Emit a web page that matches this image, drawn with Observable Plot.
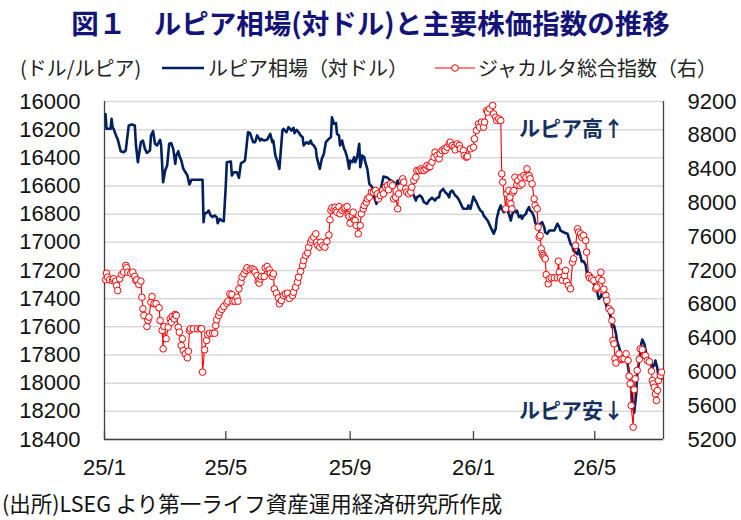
<!DOCTYPE html>
<html><head><meta charset="utf-8">
<script src="https://cdn.jsdelivr.net/npm/d3@7"></script>
<script src="https://cdn.jsdelivr.net/npm/@observablehq/plot@0.6"></script>
<style>
html,body{margin:0;padding:0;background:#fff;}
#wrap{position:relative;width:741px;height:520px;overflow:hidden;background:#fff;}
#title{position:absolute;left:0;top:4px;width:741px;text-align:center;font-family:"Noto Sans CJK JP",sans-serif;font-weight:bold;font-size:27.5px;color:#141478;line-height:36px;white-space:nowrap;}
.leg{position:absolute;top:56px;font-family:"Noto Sans CJK JP",sans-serif;font-size:20px;color:#222;line-height:24px;white-space:nowrap;}
.legsw{position:absolute;top:60px;}
#chart{position:absolute;left:0;top:90px;}
#caption{position:absolute;left:2px;top:490px;font-family:"Noto Sans CJK JP",sans-serif;font-size:21.5px;color:#111;line-height:26px;white-space:nowrap;}
</style>
</head><body>
<div id="wrap">
  <div id="title">図１　ルピア相場(対ドル)と主要株価指数の推移</div>
  <span class="leg" style="left:20px">(ドル/ルピア)</span>
  <svg class="legsw" style="left:160px" width="46" height="16"><line x1="2" y1="8" x2="44" y2="8" stroke="#002060" stroke-width="2.5"/></svg>
  <span class="leg" style="left:208px">ルピア相場（対ドル）</span>
  <svg class="legsw" style="left:434px" width="42" height="16"><line x1="1" y1="8" x2="41" y2="8" stroke="#ff0000" stroke-width="1.2"/><circle cx="21" cy="8" r="3.3" fill="#fff" stroke="#ff0000" stroke-width="1"/></svg>
  <span class="leg" style="left:478px">ジャカルタ総合指数（右）</span>
  <div id="chart"></div>
  <div id="caption">(出所)LSEG より第一ライフ資産運用経済研究所作成</div>
</div>
<script>
// ---- data ----
const idrDates = ["2025-01-02","2025-01-03","2025-01-07","2025-01-08","2025-01-09","2025-01-10","2025-01-13","2025-01-14","2025-01-17","2025-01-20","2025-01-22","2025-01-23","2025-01-25","2025-01-28","2025-01-31","2025-02-01","2025-02-03","2025-02-06","2025-02-08","2025-02-10","2025-02-12","2025-02-15","2025-02-16","2025-02-18","2025-02-20","2025-02-22","2025-02-25","2025-02-26","2025-02-28","2025-03-02","2025-03-04","2025-03-06","2025-03-08","2025-03-10","2025-03-12","2025-03-13","2025-03-15","2025-03-16","2025-03-18","2025-03-20","2025-03-21","2025-03-24","2025-03-26","2025-03-28","2025-04-08","2025-04-09","2025-04-10","2025-04-13","2025-04-14","2025-04-16","2025-04-18","2025-04-20","2025-04-22","2025-04-23","2025-04-25","2025-04-27","2025-04-29","2025-05-01","2025-05-02","2025-05-06","2025-05-07","2025-05-09","2025-05-12","2025-05-14","2025-05-16","2025-05-18","2025-05-20","2025-05-23","2025-05-25","2025-05-28","2025-05-30","2025-06-01","2025-06-04","2025-06-05","2025-06-08","2025-06-11","2025-06-14","2025-06-16","2025-06-17","2025-06-19","2025-06-21","2025-06-23","2025-06-26","2025-06-27","2025-06-30","2025-07-02","2025-07-05","2025-07-07","2025-07-08","2025-07-10","2025-07-12","2025-07-14","2025-07-16","2025-07-17","2025-07-20","2025-07-22","2025-07-24","2025-07-25","2025-07-27","2025-07-29","2025-07-30","2025-08-02","2025-08-04","2025-08-06","2025-08-08","2025-08-10","2025-08-13","2025-08-14","2025-08-16","2025-08-18","2025-08-19","2025-08-21","2025-08-22","2025-08-24","2025-08-26","2025-08-27","2025-08-29","2025-08-31","2025-09-01","2025-09-03","2025-09-05","2025-09-06","2025-09-08","2025-09-10","2025-09-11","2025-09-12","2025-09-13","2025-09-15","2025-09-16","2025-09-18","2025-09-20","2025-09-23","2025-09-25","2025-09-27","2025-09-29","2025-10-01","2025-10-04","2025-10-08","2025-10-11","2025-10-14","2025-10-16","2025-10-18","2025-10-19","2025-10-21","2025-10-24","2025-10-27","2025-10-31","2025-11-03","2025-11-05","2025-11-06","2025-11-09","2025-11-11","2025-11-13","2025-11-16","2025-11-18","2025-11-21","2025-11-24","2025-11-26","2025-11-28","2025-11-29","2025-12-02","2025-12-04","2025-12-06","2025-12-08","2025-12-09","2025-12-11","2025-12-13","2025-12-14","2025-12-16","2025-12-18","2025-12-21","2025-12-22","2025-12-26","2025-12-27","2025-12-29","2026-01-01","2026-01-02","2026-01-04","2026-01-06","2026-01-08","2026-01-10","2026-01-11","2026-01-15","2026-01-18","2026-01-21","2026-01-23","2026-01-24","2026-01-26","2026-01-28","2026-01-29","2026-01-31","2026-02-02","2026-02-03","2026-02-05","2026-02-07","2026-02-08","2026-02-10","2026-02-12","2026-02-13","2026-02-15","2026-02-17","2026-02-18","2026-02-20","2026-02-22","2026-02-23","2026-02-25","2026-02-26","2026-02-28","2026-03-02","2026-03-03","2026-03-05","2026-03-07","2026-03-08","2026-03-10","2026-03-12","2026-03-13","2026-03-15","2026-03-17","2026-03-22","2026-03-25","2026-03-27","2026-03-28","2026-03-31","2026-04-04","2026-04-07","2026-04-09","2026-04-10","2026-04-12","2026-04-14","2026-04-15","2026-04-17","2026-04-18","2026-04-20","2026-04-22","2026-04-23","2026-04-25","2026-04-26","2026-04-28","2026-04-30","2026-05-02","2026-05-03","2026-05-05","2026-05-07","2026-05-08","2026-05-10","2026-05-12","2026-05-13","2026-05-15","2026-05-17","2026-05-18","2026-05-20","2026-05-22","2026-05-23","2026-05-25","2026-05-27","2026-05-28","2026-05-30","2026-05-31","2026-06-02","2026-06-04","2026-06-06","2026-06-07","2026-06-09","2026-06-11","2026-06-12","2026-06-14","2026-06-16","2026-06-17","2026-06-19","2026-06-21","2026-06-22","2026-06-24","2026-06-26","2026-06-27","2026-06-29","2026-06-30","2026-07-02","2026-07-03","2026-07-05","2026-07-06"];
const idrValues = [16090,16194,16194,16123,16182,16194,16253,16265,16353,16360,16348,16289,16170,16163,16170,16300,16431,16289,16277,16336,16365,16348,16241,16211,16300,16312,16272,16312,16573,16490,16454,16300,16296,16336,16443,16383,16353,16383,16419,16478,16490,16525,16589,16556,16556,16857,16797,16786,16774,16809,16821,16809,16821,16864,16833,16845,16850,16596,16431,16426,16525,16502,16502,16542,16438,16431,16419,16218,16225,16289,16289,16241,16277,16265,16277,16270,16230,16289,16277,16383,16424,16478,16206,16194,16218,16182,16206,16187,16225,16201,16218,16241,16253,16312,16289,16300,16277,16300,16312,16336,16395,16478,16407,16372,16289,16272,16253,16112,16158,16154,16230,16241,16312,16277,16336,16348,16395,16478,16419,16431,16395,16431,16395,16300,16466,16431,16383,16395,16431,16478,16585,16609,16680,16727,16691,16632,16533,16542,16561,16573,16596,16561,16585,16596,16609,16609,16632,16667,16703,16680,16667,16680,16715,16727,16703,16684,16703,16684,16680,16644,16620,16644,16656,16680,16644,16632,16656,16667,16680,16703,16750,16762,16762,16738,16762,16675,16691,16715,16750,16775,16786,16809,16845,16892,16939,16904,16833,16774,16738,16762,16786,16750,16762,16797,16845,16809,16774,16786,16774,16821,16809,16833,16809,16797,16774,16750,16774,16786,16821,16857,16892,16916,16868,16857,16892,16928,16939,16916,16916,16868,16892,16916,16928,16939,17010,17030,17060,17070,17085,17050,17100,17135,17135,17160,17210,17259,17224,17235,17295,17330,17342,17401,17385,17365,17389,17436,17472,17484,17543,17602,17590,17649,17700,17744,17792,17815,17827,17815,17839,17934,18029,18123,18210,18076,17934,17839,17720,17690,17721,17792,17815,17839,17839,17887,17870,17839,17898,17958,17981,17969];

const jciDates = ["2025-01-02","2025-01-03","2025-01-04","2025-01-06","2025-01-09","2025-01-10","2025-01-12","2025-01-13","2025-01-14","2025-01-16","2025-01-18","2025-01-20","2025-01-22","2025-01-23","2025-01-24","2025-01-27","2025-01-29","2025-01-31","2025-02-01","2025-02-02","2025-02-04","2025-02-06","2025-02-07","2025-02-08","2025-02-09","2025-02-12","2025-02-13","2025-02-14","2025-02-16","2025-02-17","2025-02-19","2025-02-21","2025-02-24","2025-02-25","2025-02-27","2025-02-28","2025-03-01","2025-03-03","2025-03-05","2025-03-07","2025-03-08","2025-03-09","2025-03-11","2025-03-12","2025-03-13","2025-03-15","2025-03-16","2025-03-18","2025-03-19","2025-03-20","2025-03-22","2025-03-24","2025-03-25","2025-03-26","2025-03-27","2025-03-30","2025-04-03","2025-04-06","2025-04-07","2025-04-08","2025-04-10","2025-04-12","2025-04-13","2025-04-15","2025-04-18","2025-04-20","2025-04-21","2025-04-22","2025-04-24","2025-04-25","2025-04-27","2025-04-29","2025-05-02","2025-05-03","2025-05-05","2025-05-07","2025-05-08","2025-05-10","2025-05-12","2025-05-13","2025-05-14","2025-05-16","2025-05-17","2025-05-19","2025-05-21","2025-05-22","2025-05-25","2025-05-27","2025-05-29","2025-05-30","2025-06-01","2025-06-02","2025-06-03","2025-06-04","2025-06-05","2025-06-08","2025-06-09","2025-06-11","2025-06-13","2025-06-14","2025-06-16","2025-06-17","2025-06-18","2025-06-20","2025-06-22","2025-06-23","2025-06-25","2025-06-27","2025-06-29","2025-07-01","2025-07-03","2025-07-06","2025-07-07","2025-07-09","2025-07-11","2025-07-12","2025-07-14","2025-07-16","2025-07-17","2025-07-19","2025-07-21","2025-07-22","2025-07-24","2025-07-25","2025-07-27","2025-07-29","2025-07-30","2025-07-31","2025-08-02","2025-08-03","2025-08-05","2025-08-07","2025-08-09","2025-08-11","2025-08-12","2025-08-13","2025-08-14","2025-08-16","2025-08-17","2025-08-18","2025-08-19","2025-08-21","2025-08-22","2025-08-24","2025-08-26","2025-08-27","2025-08-29","2025-08-30","2025-08-31","2025-09-01","2025-09-03","2025-09-04","2025-09-05","2025-09-06","2025-09-07","2025-09-09","2025-09-11","2025-09-12","2025-09-14","2025-09-15","2025-09-17","2025-09-18","2025-09-20","2025-09-22","2025-09-24","2025-09-26","2025-09-28","2025-09-29","2025-10-01","2025-10-03","2025-10-04","2025-10-06","2025-10-08","2025-10-09","2025-10-11","2025-10-13","2025-10-14","2025-10-16","2025-10-18","2025-10-19","2025-10-21","2025-10-23","2025-10-24","2025-10-26","2025-10-27","2025-10-29","2025-10-31","2025-11-01","2025-11-03","2025-11-05","2025-11-06","2025-11-08","2025-11-10","2025-11-11","2025-11-13","2025-11-15","2025-11-16","2025-11-18","2025-11-19","2025-11-21","2025-11-23","2025-11-24","2025-11-26","2025-11-28","2025-11-29","2025-12-01","2025-12-03","2025-12-04","2025-12-06","2025-12-08","2025-12-09","2025-12-11","2025-12-13","2025-12-14","2025-12-16","2025-12-18","2025-12-19","2025-12-22","2025-12-23","2025-12-25","2025-12-26","2025-12-29","2026-01-01","2026-01-02","2026-01-04","2026-01-06","2026-01-07","2026-01-09","2026-01-11","2026-01-12","2026-01-14","2026-01-15","2026-01-17","2026-01-20","2026-01-21","2026-01-23","2026-01-24","2026-01-26","2026-01-28","2026-01-29","2026-01-30","2026-02-02","2026-02-03","2026-02-05","2026-02-06","2026-02-07","2026-02-08","2026-02-09","2026-02-10","2026-02-11","2026-02-13","2026-02-14","2026-02-16","2026-02-17","2026-02-18","2026-02-20","2026-02-22","2026-02-23","2026-02-25","2026-02-26","2026-02-28","2026-03-02","2026-03-03","2026-03-05","2026-03-06","2026-03-07","2026-03-08","2026-03-09","2026-03-10","2026-03-11","2026-03-12","2026-03-13","2026-03-14","2026-03-16","2026-03-17","2026-03-19","2026-03-22","2026-03-25","2026-03-26","2026-03-27","2026-03-28","2026-03-30","2026-04-01","2026-04-02","2026-04-03","2026-04-05","2026-04-07","2026-04-09","2026-04-10","2026-04-12","2026-04-14","2026-04-15","2026-04-17","2026-04-18","2026-04-20","2026-04-22","2026-04-23","2026-04-25","2026-04-26","2026-04-28","2026-04-30","2026-05-02","2026-05-03","2026-05-05","2026-05-07","2026-05-08","2026-05-09","2026-05-10","2026-05-12","2026-05-13","2026-05-15","2026-05-17","2026-05-18","2026-05-19","2026-05-20","2026-05-21","2026-05-22","2026-05-25","2026-05-27","2026-05-28","2026-05-30","2026-06-01","2026-06-03","2026-06-04","2026-06-05","2026-06-06","2026-06-08","2026-06-09","2026-06-10","2026-06-12","2026-06-14","2026-06-15","2026-06-17","2026-06-19","2026-06-20","2026-06-22","2026-06-24","2026-06-26","2026-06-27","2026-06-28","2026-06-29","2026-06-30","2026-07-01","2026-07-02","2026-07-03","2026-07-05","2026-07-06"];
const jciValues = [7090,7168,7121,7090,7082,7102,7074,7023,6963,7102,7153,7180,7259,7232,7180,7168,7180,7129,7082,7090,7034,7074,6884,6747,6668,6537,6608,6648,6825,6892,6806,6810,6759,6608,6490,6273,6537,6392,6529,6628,6588,6656,6628,6679,6668,6529,6470,6312,6392,6253,6214,6167,6245,6490,6510,6510,6510,6510,6510,5997,6262,6372,6443,6458,6458,6458,6549,6616,6668,6707,6740,6774,6813,6837,6924,6915,6837,6837,6884,6837,6983,7060,7121,7161,7200,7232,7208,7220,7208,7180,7141,7074,7050,7100,7129,7129,7232,7247,7208,7168,7129,7161,6983,6932,6877,6806,6845,6904,6924,6932,6870,6904,6943,7003,7062,7121,7190,7259,7318,7377,7408,7476,7535,7565,7594,7634,7535,7496,7476,7535,7496,7476,7545,7620,7800,7910,7940,7920,7949,7910,7890,7955,7871,7910,7930,7945,7957,7860,7840,7760,7851,7890,7800,7792,7733,7634,7733,7871,7930,7969,8008,8048,8067,8127,8127,8147,8107,8048,8088,8147,8107,8186,8206,8155,8226,8206,8048,8067,7930,8107,8186,8285,8245,8167,8127,8107,8127,8186,8265,8304,8383,8383,8403,8383,8383,8403,8443,8423,8430,8482,8541,8600,8561,8522,8581,8620,8640,8620,8659,8699,8718,8679,8659,8628,8699,8679,8640,8620,8561,8541,8550,8640,8659,8758,8857,8936,8896,8955,8896,8955,9093,9074,9113,9153,9054,9014,8975,8995,8975,8344,8245,7930,8107,8147,8067,7989,7930,8127,8147,8304,8214,8265,8206,8304,8225,8324,8304,8403,8324,8285,8226,8048,7969,7930,7713,7594,7614,7457,7398,7378,7357,7338,7151,7043,7100,7114,7114,7114,7310,7180,7114,7085,7141,7200,7070,7023,6983,7298,7338,7496,7693,7654,7634,7594,7614,7555,7417,7141,7110,7102,7082,6983,7000,7102,7180,7082,6963,6980,6904,6845,6747,6720,6608,6372,6332,6155,6105,6214,6145,6155,6155,6214,6135,5950,5859,5602,5346,5790,5918,6017,6150,6273,6263,6194,6194,6135,6120,6010,5898,5859,5819,5740,5662,5780,5898,5957,5997];

const leftTicks = [16000,16200,16400,16600,16800,17000,17200,17400,17600,17800,18000,18200,18400];
const rightTicks = [9200,8800,8400,8000,7600,7200,6800,6400,6000,5600,5200];
const xTickDates = ["2025-01-01","2025-05-01","2025-09-01","2026-01-01","2026-05-01"];
const xTickLabels = ["25/1","25/5","25/9","26/1","26/5"];
const xDomainDates = ["2025-01-01","2026-07-08"];
const noteLabels = ["ルピア高↑","ルピア安↓"];
const noteDates = ["2026-04-08","2026-04-08"];
const noteValues = [16200,18200];

// ---- right axis values are placed on the left (inverted) scale ----
const L0 = 16000, L1 = 18400, R0 = 9200, R1 = 5200;
const toLeft = v => L0 + (R0 - v) * (L1 - L0) / (R0 - R1);
const fromLeft = y => Math.round(R0 - (y - L0) * (R0 - R1) / (L1 - L0));

const idr = idrDates.map((d, i) => ({date: new Date(d), value: idrValues[i]}));
const jci = jciDates.map((d, i) => ({date: new Date(d), value: toLeft(jciValues[i])}));
const xTicks = xTickDates.map(d => new Date(d));
const xDomain = xDomainDates.map(d => new Date(d));
const notes = noteLabels.map((t, i) => ({label: t, date: new Date(noteDates[i]), value: noteValues[i]}));

const chart = Plot.plot({
  width: 741,
  height: 395,
  marginLeft: 104,
  marginRight: 78,
  marginTop: 11,
  marginBottom: 46,
  style: {fontFamily: "'Liberation Sans', Arial, sans-serif", fontSize: "22px", color: "#111", background: "transparent", overflow: "visible"},
  x: {type: "utc", domain: xDomain, label: null},
  y: {domain: [L1, L0], label: null},
  marks: [
    Plot.gridY(leftTicks, {stroke: "#d9d9d9", strokeOpacity: 1, strokeWidth: 1.5}),
    Plot.ruleX([xDomain[0], xDomain[1]], {stroke: "#404040", strokeWidth: 1.3}),
    Plot.ruleY([L1], {stroke: "#404040", strokeWidth: 1.3}),
    Plot.tickX(xTicks, {x: d => d, insetTop: 330, stroke: "#404040", strokeWidth: 1.3}),
    Plot.axisY(leftTicks, {anchor: "left", label: null, tickSize: 0, tickPadding: 24, tickFormat: d => String(d), fontSize: 22}),
    Plot.axisY(rightTicks.map(toLeft), {anchor: "right", label: null, tickSize: 0, tickPadding: 24, tickFormat: d => String(fromLeft(d)), fontSize: 22}),
    Plot.axisX(xTicks, {anchor: "bottom", label: null, tickSize: 0, tickPadding: 20, tickFormat: d => xTickLabels[xTicks.findIndex(t => +t === +d)], fontSize: 22}),
    Plot.line(idr, {x: "date", y: "value", stroke: "#002060", strokeWidth: 2.6, strokeLinejoin: "round"}),
    Plot.line(jci, {x: "date", y: "value", stroke: "#ff0000", strokeWidth: 1.1}),
    Plot.dot(jci, {x: "date", y: "value", r: 3.3, stroke: "#ff0000", fill: "#ffffff", strokeWidth: 1}),
    Plot.text(notes, {x: "date", y: "value", text: "label", fontFamily: "'Noto Sans CJK JP', sans-serif", fontWeight: "bold", fontSize: 21, fill: "#13305f", textAnchor: "middle"})
  ]
});
document.getElementById("chart").appendChild(chart);
</script>
</body></html>
